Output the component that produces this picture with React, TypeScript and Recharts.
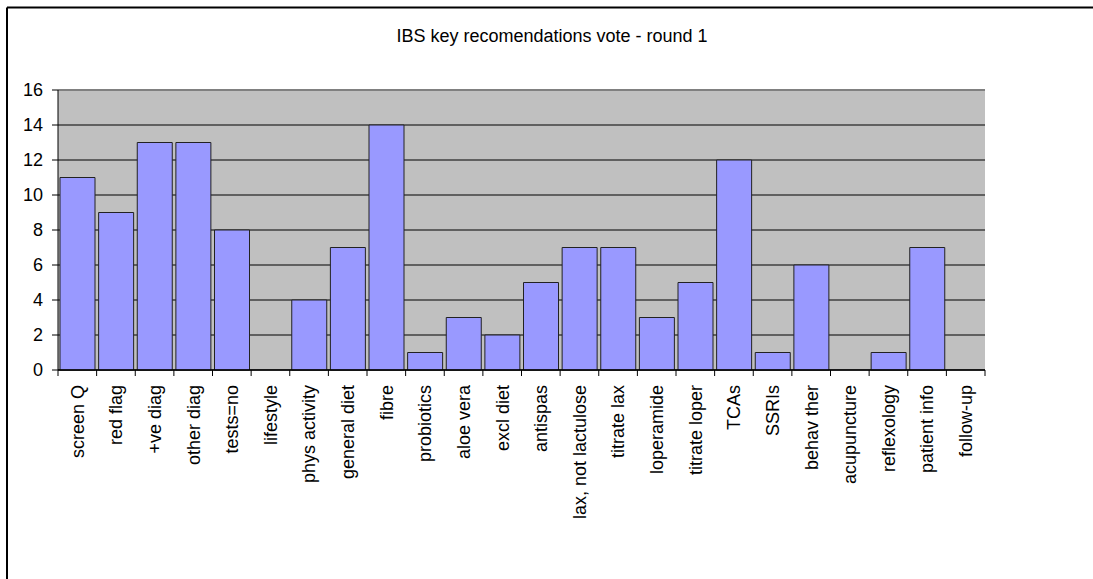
import React from "react";
import { BarChart, Bar, XAxis, YAxis, CartesianGrid, ReferenceLine } from "recharts";

const categories = [
  "screen Q", "red flag", "+ve diag", "other diag", "tests=no", "lifestyle",
  "phys activity", "general diet", "fibre", "probiotics", "aloe vera", "excl diet",
  "antispas", "lax, not lactulose", "titrate lax", "loperamide", "titrate loper",
  "TCAs", "SSRIs", "behav ther", "acupuncture", "reflexology", "patient info", "follow-up",
];
const votes = [11, 9, 13, 13, 8, 0, 4, 7, 14, 1, 3, 2, 5, 7, 7, 3, 5, 12, 1, 6, 0, 1, 7, 0];
const yTicks = [0, 2, 4, 6, 8, 10, 12, 14, 16];
const title = "IBS key recomendations vote - round 1";

const data = categories.map((c, i) => ({ name: c, value: votes[i] }));

const FONT = "'Liberation Sans', Arial, sans-serif";

const CatTick = (props: any) => {
  const { x, y, payload, index } = props;
  const off = payload && typeof payload.offset === "number" ? payload.offset : 0;
  const isLast = index === categories.length - 1;
  return (
    <g>
      <line x1={x - off} y1={y} x2={x - off} y2={y + 6} stroke="#000" strokeWidth={1} />
      {isLast && <line x1={x + off} y1={y} x2={x + off} y2={y + 6} stroke="#000" strokeWidth={1} />}
      <text
        transform={`translate(${x},${y + 15}) rotate(-90)`}
        textAnchor="end"
        dy="0.35em"
        fontSize={18}
        fontFamily={FONT}
        fill="#000"
      >
        {payload.value}
      </text>
    </g>
  );
};

export default function App() {
  return (
    <div style={{ position: "absolute", left: 0, top: 0, width: 1093, height: 579, overflow: "hidden", background: "#fff" }}>
      <div style={{ position: "absolute", left: 0, top: 0 }}>
        <BarChart
          width={1093}
          height={579}
          data={data}
          margin={{ top: 90, right: 108, bottom: 9, left: 8 }}
          barCategoryGap={2}
        >
          <CartesianGrid vertical={false} stroke="#000" fill="#c0c0c0" fillOpacity={1} />
          <XAxis
            dataKey="name"
            interval={0}
            height={200}
            tickLine={false}
            tickSize={0}
            tickMargin={0}
            axisLine={{ stroke: "#000", strokeWidth: 1.5 }}
            tick={<CatTick />}
          />
          <YAxis
            domain={[0, 16]}
            ticks={yTicks}
            interval={0}
            width={50}
            tickSize={6}
            tickMargin={9}
            axisLine={{ stroke: "#000" }}
            tickLine={{ stroke: "#000" }}
            tick={{ fontSize: 18, fontFamily: FONT, fill: "#000" }}
          />
          <YAxis
            yAxisId="r"
            orientation="right"
            domain={[0, 16]}
            width={0}
            tick={false}
            tickLine={false}
            axisLine={{ stroke: "#808080", strokeWidth: 2 }}
          />
          <ReferenceLine y={16} stroke="#808080" strokeWidth={2} />
          <Bar dataKey="value" fill="#9999ff" stroke="#222" strokeWidth={1} isAnimationActive={false} />
        </BarChart>
      </div>
      <svg style={{ position: "absolute", left: 0, top: 0, pointerEvents: "none" }} width={1093} height={579}>
        <line x1={7} y1={7.5} x2={1093} y2={7.5} stroke="#000" strokeWidth={2} />
        <line x1={7} y1={7.5} x2={7} y2={579} stroke="#000" strokeWidth={2} />
        <text x={552} y={42} textAnchor="middle" fontSize={18} fontFamily={FONT} fill="#000">
          {title}
        </text>
      </svg>
    </div>
  );
}
